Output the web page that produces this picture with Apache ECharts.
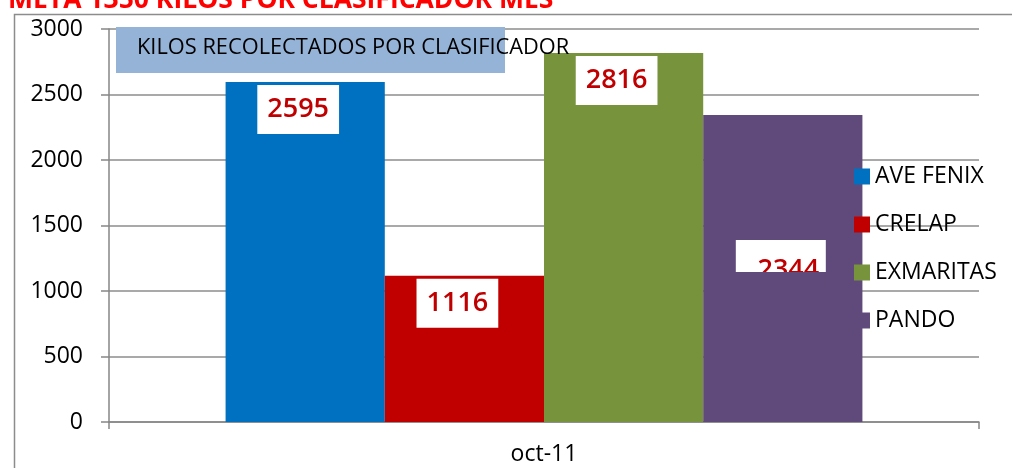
<!DOCTYPE html>
<html>
<head>
<meta charset="utf-8">
<script src="https://cdn.jsdelivr.net/npm/echarts@6/dist/echarts.min.js"></script>
<style>
html,body{margin:0;padding:0;background:#fff;}
#c{width:1012px;height:468px;}
</style>
</head>
<body>
<div id="c"></div>
<script>
const categories = ['oct-11'];
const seriesNames = ['AVE FENIX', 'CRELAP', 'EXMARITAS', 'PANDO'];
const aveFenix = [2595];
const crelap = [1116];
const exmaritas = [2816];
const pando = [2344];
const yTicks = [0, 500, 1000, 1500, 2000, 2500, 3000];
const mainTitle = 'META 1350 KILOS POR CLASIFICADOR MES';
const boxTitle = 'KILOS RECOLECTADOS POR CLASIFICADOR';

const colors = ['#0070c0', '#c00000', '#77933c', '#604a7b'];
const FONT = 'Open Sans';

const boxLabel = {
  show: true,
  position: 'insideTop',
  distance: 3,
  offset: [-7, 0],
  color: '#c00000',
  fontFamily: FONT,
  fontSize: 27,
  fontWeight: 600,
  lineHeight: 29,
  backgroundColor: '#fff',
  padding: [10, 10, 10, 10]
};

const clippedLabel = {
  show: true,
  position: 'insideTop',
  distance: 4,
  offset: [-2, 121],
  formatter: p => '{v|' + p.value + '}\n{cov| }',
  rich: {
    v: {
      color: '#c00000', fontFamily: FONT, fontSize: 27, fontWeight: 600,
      backgroundColor: '#fff', width: 65, height: 4, lineHeight: 32,
      padding: [28, 5, 0, 20]
    },
    cov: {
      backgroundColor: '#604a7b', width: 90, height: 20, lineHeight: 20,
      fontSize: 10, color: '#604a7b'
    }
  }
};

const values = [aveFenix, crelap, exmaritas, pando];
const series = seriesNames.map((name, i) => ({
  name: name,
  type: 'bar',
  data: values[i],
  barGap: '0%',
  barCategoryGap: '26.8%',
  itemStyle: { color: colors[i] },
  label: i === 3 ? clippedLabel : boxLabel
}));

const chart = echarts.init(document.getElementById('c'), null, { renderer: 'canvas' });
chart.setOption({
  animation: false,
  grid: { left: 109, right: 33, top: 29, bottom: 46, containLabel: false },
  legend: {
    orient: 'vertical',
    left: 849,
    top: 160,
    itemWidth: 16,
    itemHeight: 16,
    itemGap: 25,
    icon: 'rect',
    data: seriesNames,
    textStyle: { fontFamily: FONT, fontSize: 23, color: '#000', lineHeight: 23 }
  },
  xAxis: {
    type: 'category',
    data: categories,
    axisLine: { lineStyle: { color: '#868686', width: 1.5 } },
    axisTick: { show: true, length: 7, lineStyle: { color: '#868686', width: 1.5 } },
    axisLabel: { margin: 21, fontFamily: FONT, fontSize: 23, color: '#000' }
  },
  yAxis: {
    type: 'value',
    min: yTicks[0],
    max: yTicks[yTicks.length - 1],
    interval: yTicks[1] - yTicks[0],
    axisLine: { show: true, lineStyle: { color: '#868686', width: 1.5 } },
    axisTick: { show: true, inside: false, length: 8, lineStyle: { color: '#868686', width: 1.5 } },
    axisLabel: { margin: 26, fontFamily: FONT, fontSize: 23, color: '#000', formatter: v => String(v) },
    splitLine: { show: true, lineStyle: { color: '#8c8c8c', width: 1.5 } }
  },
  graphic: [
    {
      type: 'rect', left: 12, top: 12, z: -10, silent: true,
      shape: { width: 1300, height: 700 },
      style: { fill: 'none', stroke: '#8c8c8c', lineWidth: 1.5 }
    },
    {
      type: 'text', left: 8, top: -13, z: 10,
      style: { text: mainTitle, fill: '#ff0000', font: 'bold 26.5px "Open Sans"' }
    },
    {
      type: 'rect', left: 116, top: 27, z: 10,
      shape: { width: 389, height: 46 },
      style: { fill: '#95b3d7' }
    },
    {
      type: 'text', left: 137, top: 37, z: 11,
      style: { text: boxTitle, fill: '#000', font: '21.8px "Open Sans"' }
    }
  ],
  series: series
});
</script>
</body>
</html>
